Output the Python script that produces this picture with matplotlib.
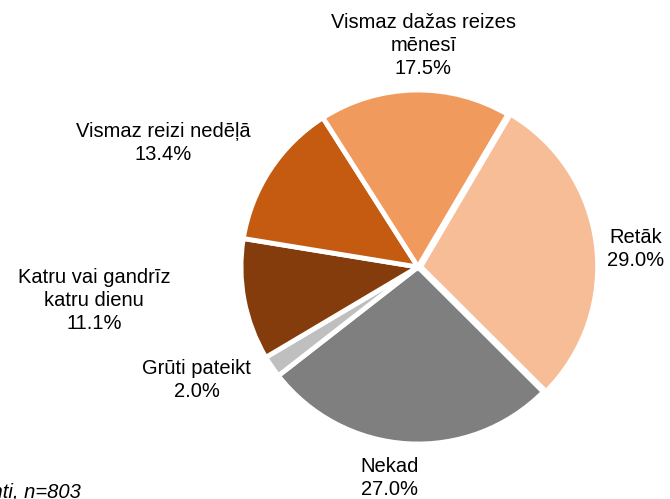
import matplotlib.pyplot as plt
import numpy as np

plt.rcParams['font.family'] = ['Liberation Sans', 'DejaVu Sans']

labels = ['Retāk', 'Nekad', 'Grūti pateikt', 'Katru vai gandrīz\nkatru dienu',
          'Vismaz reizi nedēļā', 'Vismaz dažas reizes\nmēnesī']
values = [29.0, 27.0, 2.0, 11.1, 13.4, 17.5]
colors = ['#F6BD97', '#7F7F7F', '#BFBFBF', '#843C0C', '#C55A11', '#F19A5E']
explode = [0.015, 0, 0, 0, 0, 0]

# label centres in data units (pie radius = 1)
label_xy = [(1.23, 0.10), (-0.16, -1.19), (-1.25, -0.64),
            (-1.83, -0.19), (-1.44, 0.70), (0.03, 1.25)]

fig = plt.figure(figsize=(6.7, 4.99), dpi=100)
ax = fig.add_axes([0, 0, 1, 1])

R = 177.0
cx, cy = 418.0, 267.0
ax.pie(values, colors=colors, explode=explode, startangle=59.5, counterclock=False,
       radius=1.0, wedgeprops=dict(edgecolor='white', linewidth=3.5))

for lab, v, (x, y) in zip(labels, values, label_xy):
    ax.text(x, y, f'{lab}\n{v:.1f}%', ha='center', va='center', fontsize=14.5,
            linespacing=1.25, color='black')

ax.set_xlim(-cx / R, (670 - cx) / R)
ax.set_ylim((cy - 499) / R, cy / R)
ax.set_aspect('equal')
ax.axis('off')

fig.text(81 / 670, 1 - 493 / 499, 'Bāze: visi respondenti, n=803', ha='right', va='center',
         fontsize=14.5, style='italic')

fig.savefig('out.png', dpi=100)
